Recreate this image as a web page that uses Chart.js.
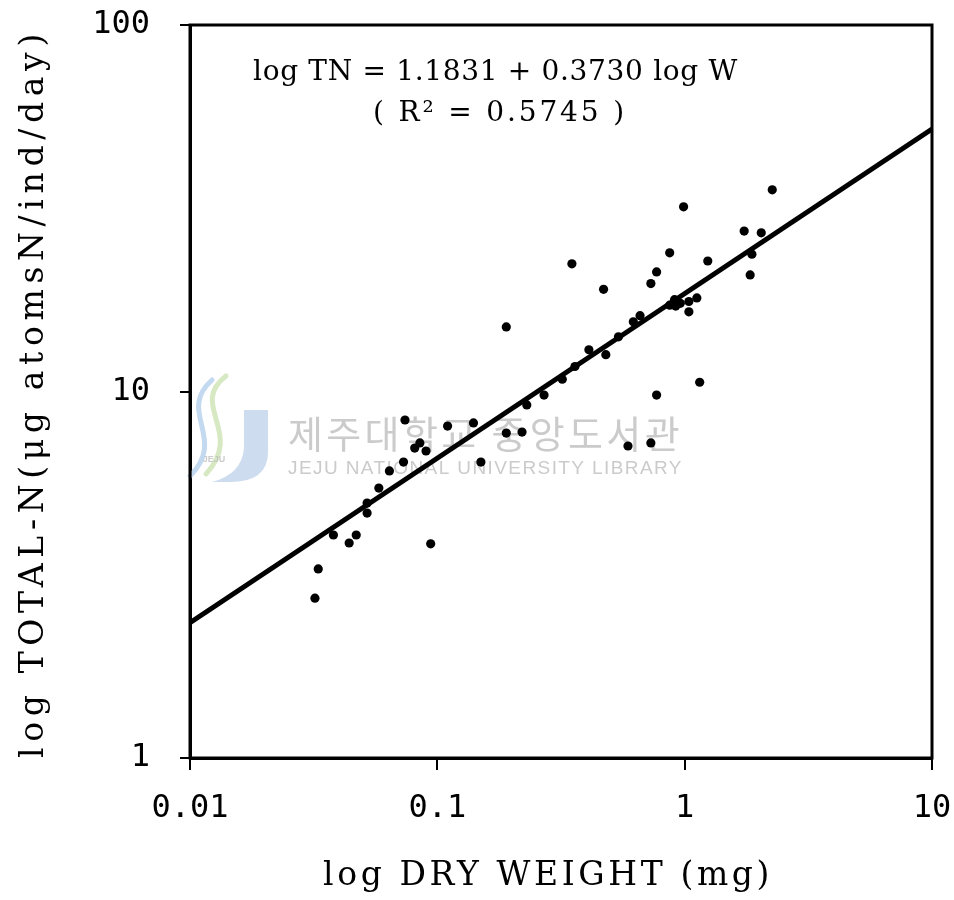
<!DOCTYPE html>
<html>
<head>
<meta charset="utf-8">
<script src="https://cdn.jsdelivr.net/npm/chart.js@4.4.1/dist/chart.umd.min.js"></script>
<style>
  html, body { margin: 0; padding: 0; background: #fff; }
</style>
</head>
<body>
<canvas id="chart-tn" width="954" height="900"></canvas>
<script>
// dry weight (mg) vs total N excretion
const dryWeight = [0.032, 0.033, 0.038, 0.044, 0.047, 0.052, 0.052, 0.058, 0.064, 0.073,
  0.074, 0.081, 0.085, 0.090, 0.094, 0.11, 0.14, 0.15, 0.19, 0.19,
  0.22, 0.23, 0.27, 0.32, 0.35, 0.36, 0.41, 0.47, 0.48, 0.54,
  0.59, 0.62, 0.66, 0.73, 0.73, 0.77, 0.77, 0.87, 0.87, 0.91,
  0.92, 0.96, 0.99, 1.04, 1.04, 1.12, 1.15, 1.24, 1.74, 1.84,
  1.87, 2.04, 2.26];
const totalN = [2.73, 3.28, 4.06, 3.86, 4.06, 4.96, 4.66, 5.45, 6.07, 6.42,
  8.36, 7.01, 7.24, 6.88, 3.84, 8.05, 8.21, 6.42, 15.0, 7.70,
  7.75, 9.19, 9.78, 10.8, 22.3, 11.7, 13.0, 19.0, 12.6, 14.1,
  7.10, 15.5, 16.1, 7.24, 19.7, 21.2, 9.78, 23.9, 17.2, 17.8,
  17.1, 17.4, 31.9, 17.6, 16.5, 18.0, 10.6, 22.7, 27.4, 20.8,
  23.7, 27.1, 35.5];

// regression line as drawn on the figure
const fitWeight = [0.01, 10];
const fitTN = [2.34, 52];

const xTicks = [0.01, 0.1, 1, 10];
const yTicks = [1, 10, 100];

const equation = 'log TN = 1.1831 + 0.3730 log W';
const rSquared = '( R² = 0.5745 )';
const xTitle = 'log DRY WEIGHT (mg)';
const yTitle = 'log TOTAL-N(μg atomsN/ind/day)';
const wmKorean = '제주대학교 중앙도서관';
const wmEnglish = 'JEJU NATIONAL UNIVERSITY LIBRARY';

// draw text stretched to a given width with letter spacing, left edge at x
function spaced(ctx, text, x, y, width) {
  ctx.letterSpacing = '0px';
  const w = ctx.measureText(text).width;
  const n = [...text].length;
  const s = Math.max(0, (width - w) / n);
  ctx.letterSpacing = s.toFixed(2) + 'px';
  ctx.textAlign = 'left';
  ctx.fillText(text, x, y);
  ctx.letterSpacing = '0px';
}

// keep the plot box fixed: drop the label overhang padding chart.js adds
function noOverhang(s) {
  s.paddingTop = 0;
  s.paddingBottom = 0;
  s.paddingLeft = 0;
  s.paddingRight = 0;
}

const watermark = {
  id: 'watermark',
  beforeDatasetsDraw(chart) {
    const ctx = chart.ctx;
    ctx.save();
    // faint library logo
    ctx.lineCap = 'round';
    ctx.lineWidth = 5;
    ctx.strokeStyle = 'rgba(205,228,180,0.8)';
    ctx.beginPath();
    ctx.moveTo(226, 376);
    ctx.bezierCurveTo(188, 405, 245, 432, 206, 474);
    ctx.stroke();
    ctx.strokeStyle = 'rgba(180,208,236,0.8)';
    ctx.beginPath();
    ctx.moveTo(212, 380);
    ctx.bezierCurveTo(176, 412, 228, 438, 190, 476);
    ctx.stroke();
    ctx.fillStyle = 'rgba(188,208,232,0.75)';
    ctx.beginPath();
    ctx.moveTo(244, 410);
    ctx.lineTo(268, 410);
    ctx.lineTo(268, 452);
    ctx.quadraticCurveTo(268, 482, 230, 482);
    ctx.lineTo(212, 482);
    ctx.quadraticCurveTo(242, 474, 244, 448);
    ctx.closePath();
    ctx.fill();
    ctx.fillStyle = 'rgba(190,190,190,0.8)';
    ctx.font = 'bold 9px "Liberation Sans"';
    ctx.textAlign = 'center';
    ctx.fillText('JEJU', 214, 462);
    // library name
    ctx.fillStyle = '#cbcbcb';
    ctx.textBaseline = 'middle';
    ctx.font = '38px "Noto Sans CJK KR"';
    spaced(ctx, wmKorean, 288, 434, 395);
    ctx.font = '19px "Liberation Sans"';
    spaced(ctx, wmEnglish, 288, 469, 395);
    ctx.restore();
  }
};

const labels = {
  id: 'labels',
  afterDraw(chart) {
    const ctx = chart.ctx;
    const a = chart.chartArea;
    ctx.save();
    // frame
    ctx.strokeStyle = '#000';
    ctx.lineWidth = 3;
    ctx.strokeRect(a.left, a.top, a.right - a.left, a.bottom - a.top);
    // equation
    ctx.fillStyle = '#000';
    ctx.textBaseline = 'middle';
    ctx.font = '28px "DejaVu Serif"';
    spaced(ctx, equation, 253, 73, 485);
    spaced(ctx, rSquared, 373, 114, 254);
    // axis titles
    ctx.font = '33px "DejaVu Serif"';
    spaced(ctx, xTitle, 323, 876, 450);
    ctx.translate(34, 393);
    ctx.rotate(-Math.PI / 2);
    spaced(ctx, yTitle, -365, 0, 730);
    ctx.restore();
  }
};

const tickFont = { family: '"DejaVu Sans Mono"', size: 32 };

new Chart(document.getElementById('chart-tn'), {
  type: 'scatter',
  data: {
    datasets: [
      {
        label: 'fit',
        type: 'line',
        data: fitWeight.map((w, i) => ({ x: w, y: fitTN[i] })),
        borderColor: '#000',
        borderWidth: 5,
        pointRadius: 0,
        fill: false,
      },
      {
        label: 'TN',
        data: dryWeight.map((w, i) => ({ x: w, y: totalN[i] })),
        backgroundColor: '#000',
        borderColor: '#000',
        pointRadius: 4.6,
        pointBorderWidth: 0,
      },
    ],
  },
  options: {
    responsive: false,
    animation: false,
    layout: { padding: { top: 25, right: 22, left: 0, bottom: 0 } },
    plugins: {
      legend: { display: false },
      tooltip: { enabled: false },
    },
    scales: {
      x: {
        type: 'logarithmic',
        min: 0.01,
        max: 10,
        afterBuildTicks: s => { s.ticks = xTicks.map(v => ({ value: v })); },
        afterFit: s => { s.height = 142; noOverhang(s); },
        grid: { drawOnChartArea: false, color: '#000', lineWidth: 2, tickLength: 12 },
        border: { color: '#000', width: 3 },
        ticks: {
          color: '#000',
          font: tickFont,
          padding: 19,
          autoSkip: false,
          maxRotation: 0,
          callback: v => String(v),
        },
      },
      y: {
        type: 'logarithmic',
        min: 1,
        max: 100,
        afterBuildTicks: s => { s.ticks = yTicks.map(v => ({ value: v })); },
        afterFit: s => { s.width = 190; noOverhang(s); },
        grid: { drawOnChartArea: false, color: '#000', lineWidth: 2, tickLength: 10 },
        border: { color: '#000', width: 3 },
        ticks: {
          color: '#000',
          font: tickFont,
          padding: 30,
          autoSkip: false,
          callback: v => String(v),
        },
      },
    },
  },
  plugins: [watermark, labels],
});
</script>
</body>
</html>
